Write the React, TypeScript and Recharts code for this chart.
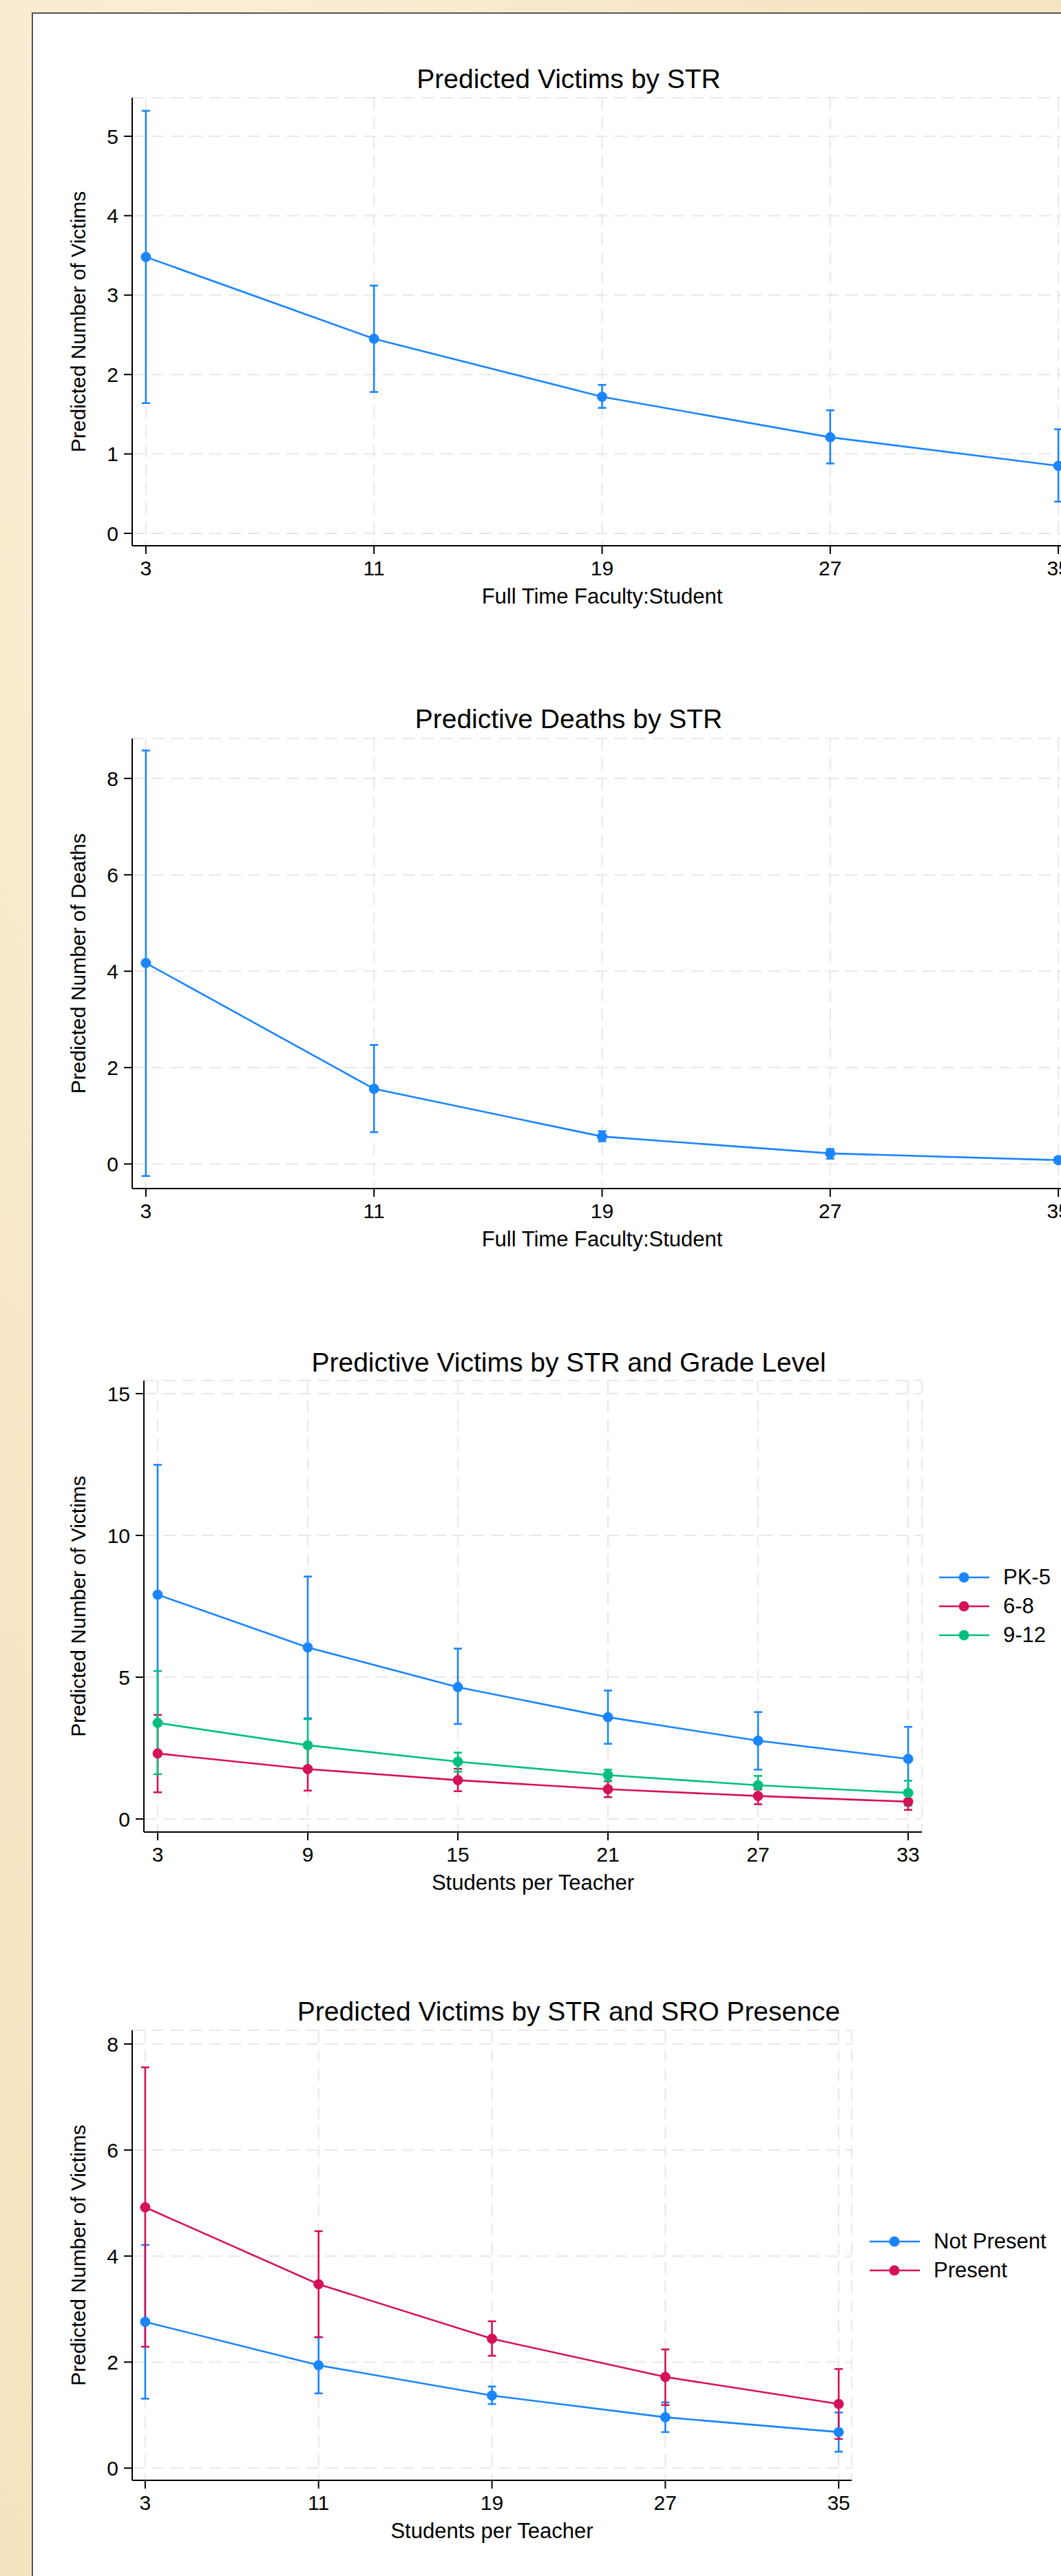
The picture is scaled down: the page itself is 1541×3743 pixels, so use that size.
import React from 'react';
import { LineChart, Line, XAxis, YAxis, CartesianGrid, ErrorBar } from 'recharts';

const BLUE = '#1a85ff';
const RED = '#d41159';
const GREEN = '#00bf7f';
const FONT = '"Liberation Sans", Arial, Helvetica, sans-serif';

// ---- Chart 1: Predicted Victims by STR ----
const strTicks = [3, 11, 19, 27, 35];
const victimsMean = [3.48, 2.45, 1.72, 1.21, 0.85];
const victimsLow = [1.64, 1.78, 1.58, 0.88, 0.4];
const victimsHigh = [5.32, 3.12, 1.87, 1.55, 1.31];
const victimsYTicks = [0, 1, 2, 3, 4, 5];

// ---- Chart 2: Predictive Deaths by STR ----
const deathsMean = [4.17, 1.56, 0.57, 0.22, 0.08];
const deathsLow = [-0.25, 0.66, 0.47, 0.11, 0.02];
const deathsHigh = [8.58, 2.47, 0.68, 0.31, 0.14];
const deathsYTicks = [0, 2, 4, 6, 8];

// ---- Chart 3: Predictive Victims by STR and Grade Level ----
const gradeTicks = [3, 9, 15, 21, 27, 33];
const gradeNames = ['PK-5', '6-8', '9-12'];
const pk5Mean = [7.91, 6.05, 4.65, 3.59, 2.76, 2.12];
const pk5Low = [3.3, 3.55, 3.35, 2.65, 1.74, 0.98];
const pk5High = [12.49, 8.55, 6.01, 4.53, 3.77, 3.25];
const g68Mean = [2.31, 1.76, 1.37, 1.05, 0.81, 0.61];
const g68Low = [0.94, 1.0, 0.98, 0.77, 0.52, 0.32];
const g68High = [3.67, 2.52, 1.77, 1.33, 1.04, 0.84];
const g912Mean = [3.39, 2.6, 2.02, 1.55, 1.19, 0.92];
const g912Low = [1.58, 1.7, 1.67, 1.35, 0.88, 0.47];
const g912High = [5.22, 3.52, 2.34, 1.74, 1.52, 1.35];
const gradeYTicks = [0, 5, 10, 15];

// ---- Chart 4: Predicted Victims by STR and SRO Presence ----
const sroTicks = [3, 11, 19, 27, 35];
const sroNames = ['Not Present', 'Present'];
const notPresentMean = [2.76, 1.94, 1.37, 0.96, 0.68];
const notPresentLow = [1.31, 1.41, 1.21, 0.68, 0.31];
const notPresentHigh = [4.21, 2.47, 1.54, 1.24, 1.05];
const presentMean = [4.92, 3.47, 2.44, 1.72, 1.21];
const presentLow = [2.29, 2.47, 2.12, 1.19, 0.55];
const presentHigh = [7.56, 4.47, 2.77, 2.24, 1.87];
const sroYTicks = [0, 2, 4, 6, 8];

type Series = { name: string; color: string; mean: number[]; low: number[]; high: number[] };

type PanelProps = {
  title: string;
  titleY: number;
  plotLeft: number;
  plotTop: number;
  plotBottom: number;
  plotRight: number;
  xs: number[];
  xDomain: [number, number];
  yDomain: [number, number];
  yTicks: number[];
  series: Series[];
  xLabel: string;
  yLabel: string;
  legend?: { x: number; y: number; gap: number };
};

const TOP_PAD = 20;
const XAXIS_H = 110;
const RIGHT_PAD = 20;

function Panel(p: PanelProps) {
  const data = p.xs.map((x, i) => {
    const row: any = { x };
    p.series.forEach((s, k) => {
      row['y' + k] = s.mean[i];
      row['e' + k] = [s.mean[i] - s.low[i], s.high[i] - s.mean[i]];
    });
    return row;
  });
  const svgTop = p.plotTop - TOP_PAD;
  const width = p.plotRight + RIGHT_PAD;
  const height = p.plotBottom - svgTop + XAXIS_H;
  const xMid = (p.plotLeft + p.plotRight) / 2;
  const xLabY = p.plotBottom - svgTop + 73;
  const yMid = (p.plotTop + p.plotBottom) / 2 - svgTop;
  const tickStyle = { fill: '#000', fontSize: 30, fontFamily: FONT };

  return (
    <>
      <div
        style={{
          position: 'absolute',
          left: 0,
          width: 1652,
          top: p.titleY - 25,
          height: 50,
          lineHeight: '50px',
          textAlign: 'center',
          fontFamily: FONT,
          fontSize: 39,
          color: '#000',
          whiteSpace: 'nowrap',
        }}
      >
        {p.title}
      </div>
      <div style={{ position: 'absolute', left: 0, top: svgTop }}>
        <LineChart
          width={width}
          height={height}
          data={data}
          margin={{ top: TOP_PAD, right: RIGHT_PAD, bottom: 0, left: 0 }}
        >
          <CartesianGrid stroke="#e8e8e8" strokeWidth={2} strokeDasharray="18 10" />
          <XAxis
            type="number"
            dataKey="x"
            domain={p.xDomain}
            ticks={p.xs}
            interval={0}
            allowDataOverflow
            height={XAXIS_H}
            tickSize={12}
            tickMargin={10}
            stroke="#000"
            strokeWidth={2}
            tick={tickStyle}
            label={() => (
              <text
                x={xMid}
                y={xLabY}
                textAnchor="middle"
                dominantBaseline="central"
                fontFamily={FONT}
                fontSize={31}
                fill="#000"
              >
                {p.xLabel}
              </text>
            )}
          />
          <YAxis
            type="number"
            domain={p.yDomain}
            ticks={p.yTicks}
            interval={0}
            allowDataOverflow
            width={p.plotLeft}
            tickSize={12}
            tickMargin={8}
            stroke="#000"
            strokeWidth={2}
            tick={tickStyle}
            label={() => (
              <text
                x={113}
                y={yMid}
                transform={`rotate(-90, 113, ${yMid})`}
                textAnchor="middle"
                dominantBaseline="central"
                fontFamily={FONT}
                fontSize={30}
                fill="#000"
              >
                {p.yLabel}
              </text>
            )}
          />
          {p.series.map((s, k) => (
            <Line
              key={s.name}
              name={s.name}
              type="linear"
              dataKey={'y' + k}
              stroke={s.color}
              strokeWidth={2.6}
              dot={{ r: 7, fill: s.color, stroke: s.color, strokeWidth: 1 }}
              activeDot={false}
              isAnimationActive={false}
            >
              <ErrorBar
                dataKey={'e' + k}
                direction="y"
                width={6}
                stroke={s.color}
                strokeWidth={2.6}
                isAnimationActive={false}
              />
            </Line>
          ))}
        </LineChart>
      </div>
      {p.legend &&
        p.series.map((s, k) => (
          <div
            key={'lg' + k}
            style={{
              position: 'absolute',
              left: p.legend!.x,
              top: p.legend!.y + k * p.legend!.gap - 20,
              height: 40,
              display: 'flex',
              alignItems: 'center',
              whiteSpace: 'nowrap',
            }}
          >
            <svg width={74} height={40} style={{ display: 'block' }}>
              <line x1={0} y1={20} x2={73} y2={20} stroke={s.color} strokeWidth={2.6} />
              <circle cx={36} cy={20} r={7.5} fill={s.color} />
            </svg>
            <span
              style={{
                marginLeft: 19,
                fontFamily: FONT,
                fontSize: 31,
                color: '#000',
                lineHeight: '40px',
              }}
            >
              {s.name}
            </span>
          </div>
        ))}
    </>
  );
}

export default function App() {
  return (
    <div
      style={{
        position: 'absolute',
        left: 0,
        top: 0,
        width: 1541,
        height: 3743,
        overflow: 'hidden',
        background:
          'radial-gradient(ellipse at 20% 10%, #fbefd6 0%, #f6e4c1 60%, #f3dfb8 100%)',
      }}
    >
      <div
        style={{
          position: 'absolute',
          left: 46,
          top: 18,
          width: 1600,
          height: 3800,
          background: '#ffffff',
          borderLeft: '2px solid #555',
          borderTop: '2px solid #555',
        }}
      />
      <Panel
        title="Predicted Victims by STR"
        titleY={115}
        plotLeft={192}
        plotTop={142}
        plotBottom={793}
        plotRight={1557}
        xs={strTicks}
        xDomain={[2.52, 35.48]}
        yDomain={[-0.156, 5.485]}
        yTicks={victimsYTicks}
        series={[{ name: 'Victims', color: BLUE, mean: victimsMean, low: victimsLow, high: victimsHigh }]}
        xLabel="Full Time Faculty:Student"
        yLabel="Predicted Number of Victims"
      />
      <Panel
        title="Predictive Deaths by STR"
        titleY={1045}
        plotLeft={192}
        plotTop={1073}
        plotBottom={1727}
        plotRight={1557}
        xs={strTicks}
        xDomain={[2.52, 35.48]}
        yDomain={[-0.51, 8.83]}
        yTicks={deathsYTicks}
        series={[{ name: 'Deaths', color: BLUE, mean: deathsMean, low: deathsLow, high: deathsHigh }]}
        xLabel="Full Time Faculty:Student"
        yLabel="Predicted Number of Deaths"
      />
      <Panel
        title="Predictive Victims by STR and Grade Level"
        titleY={1980}
        plotLeft={209}
        plotTop={2006}
        plotBottom={2662}
        plotRight={1339}
        xs={gradeTicks}
        xDomain={[2.45, 33.55]}
        yDomain={[-0.46, 15.46]}
        yTicks={gradeYTicks}
        series={[
          { name: gradeNames[0], color: BLUE, mean: pk5Mean, low: pk5Low, high: pk5High },
          { name: gradeNames[1], color: RED, mean: g68Mean, low: g68Low, high: g68High },
          { name: gradeNames[2], color: GREEN, mean: g912Mean, low: g912Low, high: g912High },
        ]}
        xLabel="Students per Teacher"
        yLabel="Predicted Number of Victims"
        legend={{ x: 1364, y: 2292, gap: 42 }}
      />
      <Panel
        title="Predicted Victims by STR and SRO Presence"
        titleY={2923}
        plotLeft={192}
        plotTop={2950}
        plotBottom={3604}
        plotRight={1237}
        xs={sroTicks}
        xDomain={[2.4, 35.6]}
        yDomain={[-0.23, 8.26]}
        yTicks={sroYTicks}
        series={[
          { name: sroNames[0], color: BLUE, mean: notPresentMean, low: notPresentLow, high: notPresentHigh },
          { name: sroNames[1], color: RED, mean: presentMean, low: presentLow, high: presentHigh },
        ]}
        xLabel="Students per Teacher"
        yLabel="Predicted Number of Victims"
        legend={{ x: 1263, y: 3257, gap: 42 }}
      />
    </div>
  );
}
